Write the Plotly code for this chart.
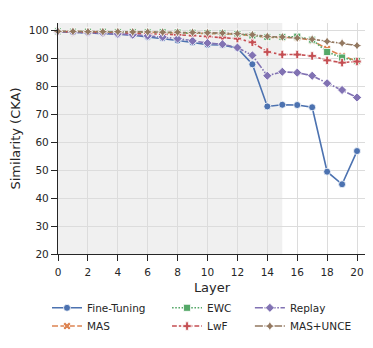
import plotly.graph_objects as go

layers = list(range(21))

fine_tuning = [99.7, 99.5, 99.3, 99.1, 98.8, 98.4, 97.8, 97.3, 96.5, 95.8, 95.0,
               94.9, 93.8, 88.0, 72.9, 73.5, 73.4, 72.6, 49.5, 45.0, 56.9]
mas = [99.8, 99.7, 99.7, 99.6, 99.6, 99.5, 99.5, 99.4, 99.3, 99.2, 99.1,
       99.0, 98.8, 98.2, 97.7, 97.6, 97.6, 96.5, 93.5, 91.0, 89.2]
ewc = [99.8, 99.7, 99.7, 99.7, 99.6, 99.6, 99.5, 99.5, 99.4, 99.3, 99.2,
       99.1, 98.9, 98.3, 97.8, 97.8, 97.9, 96.8, 92.4, 90.4, 89.2]
lwf = [99.7, 99.6, 99.5, 99.4, 99.3, 99.2, 99.0, 98.8, 98.6, 98.3, 98.0,
       97.6, 97.2, 95.9, 92.4, 91.5, 91.5, 91.0, 89.4, 88.6, 89.0]
replay = [99.7, 99.5, 99.3, 99.2, 98.9, 98.6, 98.2, 97.8, 97.2, 96.4, 95.6,
          95.2, 94.0, 91.2, 83.9, 85.3, 85.0, 83.9, 81.2, 78.8, 76.1]
mas_unce = [99.8, 99.8, 99.7, 99.7, 99.7, 99.6, 99.6, 99.5, 99.5, 99.4, 99.3,
            99.2, 99.0, 98.6, 98.0, 97.8, 97.4, 97.0, 96.2, 95.6, 94.7]

x_ticks = list(range(0, 21, 2))
y_ticks = list(range(20, 101, 10))

FONT = 'DejaVu Sans'
TXT = '#262626'

# page body has an 8px margin, so the figure is 8px smaller than the window
W, H = 365, 340

# name, data, colour, dash, marker, legend slot (x, y in paper coords)
series = [
    ('Fine-Tuning', fine_tuning, '#4C72B0', 'solid', 'circle', (-0.0357, -0.233)),
    ('MAS', mas, '#DD8452', '6px,2.4px', 'x', (-0.0357, -0.312)),
    ('EWC', ewc, '#55A868', '1.6px,1.6px', 'square', (0.354, -0.233)),
    ('LwF', lwf, '#C44E52', '4.8px,2px,2.4px,2px', 'cross', (0.354, -0.312)),
    ('Replay', replay, '#8172B3', '8px,1.6px,1.6px,1.6px', 'diamond', (0.623, -0.233)),
    ('MAS+UNCE', mas_unce, '#937860', '8px,1.6px,3.2px,1.6px,3.2px,1.6px', 'star-diamond', (0.623, -0.312)),
]

fig = go.Figure()
legends = {}
for i, (name, vals, col, dash, sym, pos) in enumerate(series):
    leg = 'legend' if i == 0 else f'legend{i + 1}'
    fig.add_trace(go.Scatter(
        x=layers, y=vals, name=name, mode='lines+markers',
        line=dict(color=col, width=1.6, dash=dash),
        marker=dict(symbol=sym, size=7, color=col,
                    line=dict(color='white', width=0.8)),
        cliponaxis=False,
        legend=leg,
    ))
    legends[leg] = dict(x=pos[0], y=pos[1], xanchor='left', yanchor='middle',
                        bgcolor='rgba(0,0,0,0)',
                        font=dict(family=FONT, size=10.5, color=TXT))

# shaded region
fig.add_shape(type='rect', xref='x', yref='paper', x0=0, x1=15, y0=0, y1=1,
              fillcolor='#f0f0f0', line=dict(width=0), layer='below')

fig.update_layout(
    width=W, height=H,
    margin=dict(l=50, r=7, t=15, b=90),
    plot_bgcolor='white', paper_bgcolor='white',
    font=dict(family=FONT, size=10.5, color=TXT),
    showlegend=True,
    **legends,
    xaxis=dict(
        range=[0, 20.6], tickvals=x_ticks, title=dict(text='Layer', font=dict(size=13), standoff=6),
        showgrid=True, gridcolor='#dcdcdc', gridwidth=1,
        showline=True, linecolor='#262626', linewidth=1.2,
        ticks='outside', ticklen=6, tickcolor='#262626', zeroline=False,
        ticklabelstandoff=2,
    ),
    yaxis=dict(
        range=[20, 102.8], tickvals=y_ticks, title=dict(text='Similarity (CKA)', font=dict(size=13), standoff=6),
        showgrid=True, gridcolor='#dcdcdc', gridwidth=1,
        showline=True, linecolor='#262626', linewidth=1.2,
        ticks='outside', ticklen=6, tickcolor='#262626', zeroline=False,
    ),
)

fig.write_html('out.html')
